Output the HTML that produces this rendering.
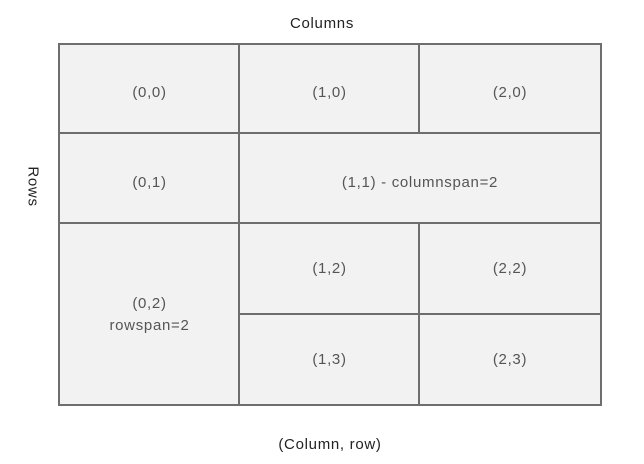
<!DOCTYPE html>
<html><head><style>
body{margin:0;width:644px;height:464px;background:#fff;position:relative;overflow:hidden;font-family:"Liberation Sans",Arial,sans-serif;}
.c{position:absolute;background:#f2f2f2;border:2px solid #6e6e6e;box-sizing:border-box;display:flex;align-items:center;justify-content:center;text-align:center;color:#555;font-size:15px;letter-spacing:0.7px;line-height:22px;}
.l{position:absolute;color:#222;font-size:15px;letter-spacing:0.7px;}
</style></head><body>
<div class="l" style="left:0;width:644px;top:15px;text-align:center;">Columns</div>
<div class="l" style="left:3px;top:178px;width:60px;text-align:center;transform:rotate(90deg);">Rows</div>
<div class="l" style="left:0;width:644px;top:436px;text-align:center;padding-left:16px;box-sizing:border-box;">(Column, row)</div>
<div>
<div class="c" style="left:58px;top:43px;width:183px;height:92px;padding-top:8px;">(0,0)</div>
<div class="c" style="left:238px;top:43px;width:183px;height:92px;padding-top:8px;">(1,0)</div>
<div class="c" style="left:418px;top:43px;width:184px;height:92px;padding-top:8px;">(2,0)</div>
<div class="c" style="left:58px;top:132px;width:183px;height:93px;padding-top:8px;">(0,1)</div>
<div class="c" style="left:238px;top:132px;width:364px;height:93px;padding-top:8px;">(1,1) - columnspan=2</div>
<div class="c" style="left:58px;top:222px;width:183px;height:184px;padding-top:2px;">(0,2)<br>rowspan=2</div>
<div class="c" style="left:238px;top:222px;width:183px;height:94px;">(1,2)</div>
<div class="c" style="left:418px;top:222px;width:184px;height:94px;">(2,2)</div>
<div class="c" style="left:238px;top:313px;width:183px;height:93px;">(1,3)</div>
<div class="c" style="left:418px;top:313px;width:184px;height:93px;">(2,3)</div>
</div>
</body></html>
